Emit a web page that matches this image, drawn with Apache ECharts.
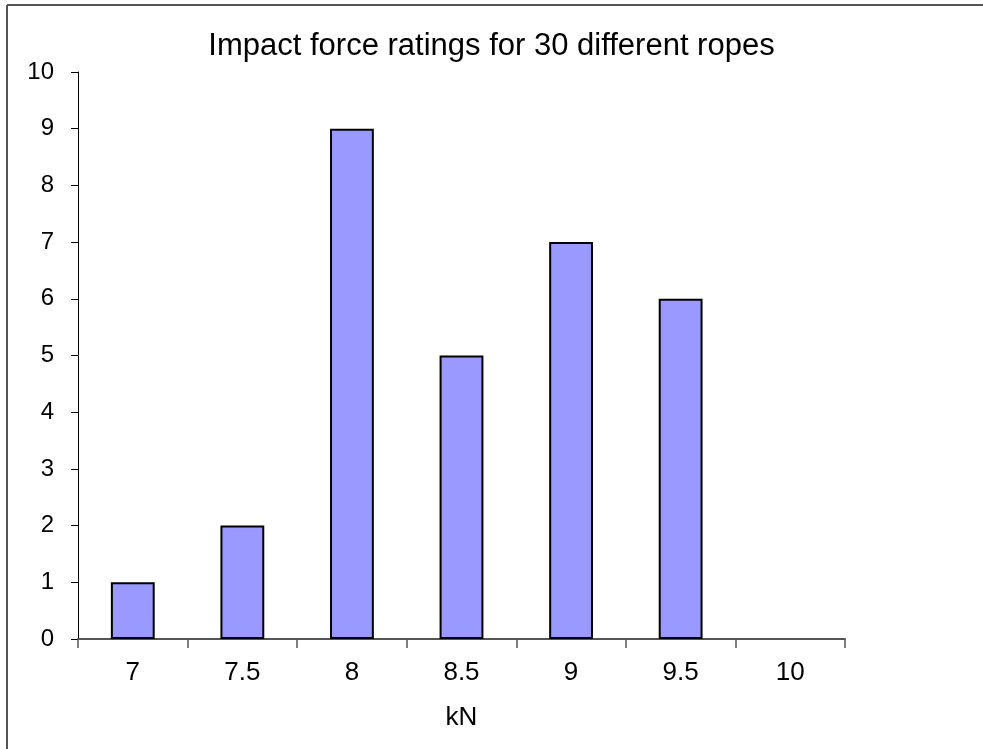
<!DOCTYPE html>
<html>
<head>
<meta charset="utf-8">
<script src="https://cdn.jsdelivr.net/npm/echarts@6/dist/echarts.min.js"></script>
<style>
  html, body { margin: 0; padding: 0; background: #fff; }
  #main { width: 983px; height: 749px; }
</style>
</head>
<body>
<div id="main"></div>
<script>
var categories = ['7', '7.5', '8', '8.5', '9', '9.5', '10'];
var counts = [1, 2, 9, 5, 7, 6, 0];
var yTicks = [0, 10, 1]; // min, max, interval

var chart = echarts.init(document.getElementById('main'));
var font = 'Liberation Sans, Arial, sans-serif';
// an empty bin draws no outline in the original
var barData = counts.map(function (v) {
    return v === 0 ? { value: v, itemStyle: { borderWidth: 0 } } : v;
});
var option = {
    backgroundColor: '#fff',
    animation: false,
    title: {
        text: 'Impact force ratings for 30 different ropes',
        left: 'center',
        top: 26,
        textStyle: { fontFamily: font, fontSize: 31, fontWeight: 'normal', color: '#000' }
    },
    grid: { left: 78, right: 138, top: 72, bottom: 110, containLabel: false },
    xAxis: {
        type: 'category',
        data: categories,
        name: 'kN',
        nameLocation: 'middle',
        nameGap: 66,
        nameTextStyle: { fontFamily: font, fontSize: 26, color: '#000' },
        axisLine: { lineStyle: { color: '#555', width: 2 } },
        axisTick: { show: true, length: 9, lineStyle: { color: '#555', width: 1.5 } },
        axisLabel: { fontFamily: font, fontSize: 26, color: '#000', margin: 21 }
    },
    yAxis: {
        type: 'value',
        min: yTicks[0],
        max: yTicks[1],
        interval: yTicks[2],
        splitLine: { show: false },
        axisLine: { show: true, lineStyle: { color: '#000', width: 1 } },
        axisTick: { show: true, length: 7, lineStyle: { color: '#000' } },
        axisLabel: { fontFamily: font, fontSize: 24, color: '#000', margin: 24 }
    },
    series: [{
        type: 'bar',
        data: barData,
        barWidth: '40%',
        itemStyle: { color: '#9999ff', borderColor: '#000', borderWidth: 2 }
    }],
    graphic: [
        { type: 'line', shape: { x1: 7, y1: 5, x2: 983, y2: 5 }, style: { stroke: '#555', lineWidth: 2 } },
        { type: 'line', shape: { x1: 7, y1: 5, x2: 7, y2: 749 }, style: { stroke: '#555', lineWidth: 2 } }
    ]
};
chart.setOption(option);
</script>
</body>
</html>
